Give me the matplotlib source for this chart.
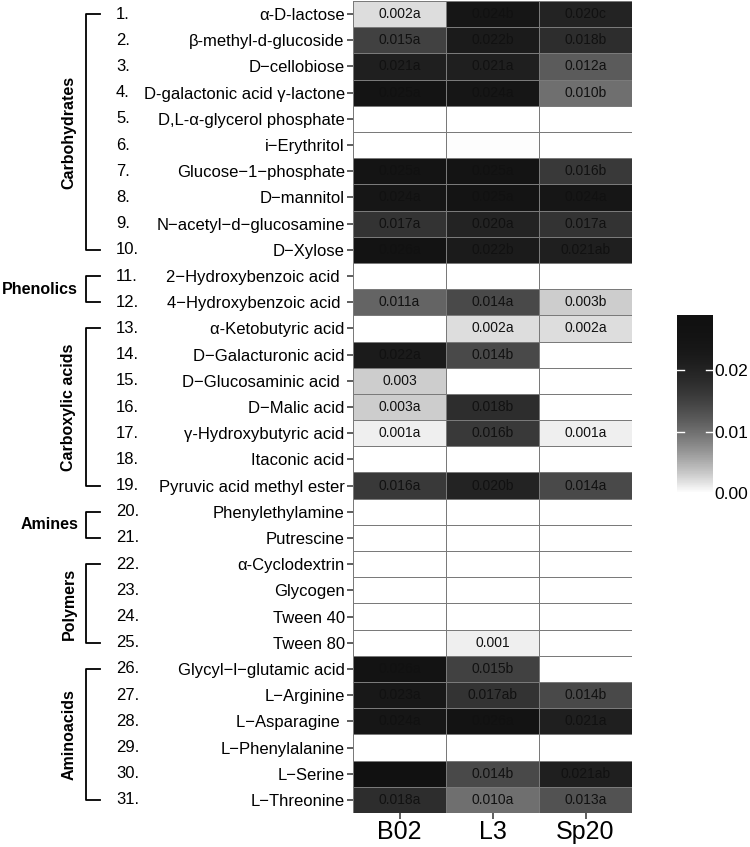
import numpy as np
import matplotlib
matplotlib.use("Agg")
import matplotlib.pyplot as plt
from matplotlib.colors import ListedColormap
from matplotlib.transforms import blended_transform_factory

plt.rcParams['font.family'] = ['Liberation Sans', 'DejaVu Sans']

# ---------------------------------------------------------------- data
strains = ['B02', 'L3', 'Sp20']

substrates = ['α-D-lactose', 'β-methyl-d-glucoside', 'D−cellobiose',
              'D-galactonic acid γ-lactone', 'D,L-α-glycerol phosphate',
              'i−Erythritol', 'Glucose−1−phosphate', 'D−mannitol',
              'N−acetyl−d−glucosamine', 'D−Xylose',
              '2−Hydroxybenzoic acid ', '4−Hydroxybenzoic acid ',
              'α-Ketobutyric acid', 'D−Galacturonic acid', 'D−Glucosaminic acid ',
              'D−Malic acid', 'γ-Hydroxybutyric acid', 'Itaconic acid',
              'Pyruvic acid methyl ester',
              'Phenylethylamine', 'Putrescine',
              'α-Cyclodextrin', 'Glycogen', 'Tween 40', 'Tween 80',
              'Glycyl−l−glutamic acid', 'L−Arginine', 'L−Asparagine ',
              'L−Phenylalanine', 'L−Serine', 'L−Threonine']

nan = np.nan
b02 = [0.002, 0.015, 0.021, 0.025, nan, nan, 0.025, 0.024, 0.017, 0.026,
       nan, 0.011, nan, 0.022, 0.003, 0.003, 0.001, nan, 0.016,
       nan, nan, nan, nan, nan, nan,
       0.026, 0.023, 0.024, nan, 0.028, 0.018]
l3 = [0.024, 0.022, 0.021, 0.024, nan, 0.0002, 0.025, 0.025, 0.020, 0.022,
      nan, 0.014, 0.002, 0.014, nan, 0.018, 0.016, nan, 0.020,
      nan, nan, nan, nan, nan, 0.001,
      0.015, 0.017, 0.026, nan, 0.014, 0.010]
sp20 = [0.020, 0.018, 0.012, 0.010, nan, nan, 0.016, 0.024, 0.017, 0.021,
        nan, 0.003, 0.002, nan, nan, nan, 0.001, nan, 0.014,
        nan, nan, nan, nan, nan, nan,
        nan, 0.014, 0.021, nan, 0.021, 0.013]

lab_b02 = ['0.002a', '0.015a', '0.021a', '0.025a', '', '', '0.025a', '0.024a', '0.017a', '0.026a',
           '', '0.011a', '', '0.022a', '0.003', '0.003a', '0.001a', '', '0.016a',
           '', '', '', '', '', '',
           '0.026a', '0.023a', '0.024a', '', '0.028a', '0.018a']
lab_l3 = ['0.024b', '0.022b', '0.021a', '0.024a', '', '', '0.025a', '0.025a', '0.020a', '0.022b',
          '', '0.014a', '0.002a', '0.014b', '', '0.018b', '0.016b', '', '0.020b',
          '', '', '', '', '', '0.001',
          '0.015b', '0.017ab', '0.026a', '', '0.014b', '0.010a']
lab_sp20 = ['0.020c', '0.018b', '0.012a', '0.010b', '', '', '0.016b', '0.024a', '0.017a', '0.021ab',
            '', '0.003b', '0.002a', '', '', '', '0.001a', '', '0.014a',
            '', '', '', '', '', '',
            '', '0.014b', '0.021a', '', '0.021ab', '0.013a']

# groups: name, first row, last row (1-based)
groups = [('Carbohydrates', 1, 10), ('Phenolics', 11, 12),
          ('Carboxylic acids', 13, 19), ('Amines', 20, 21),
          ('Polymers', 22, 25), ('Aminoacids', 26, 31)]

# ---------------------------------------------------------------- colours
t = np.linspace(0, 1, 256)
g = (17 + 238 * (1 - t) ** 2.2) / 255.0
cmap = ListedColormap(np.column_stack([g, g, g]))
cmap.set_bad('white')
vmax = 0.029

vals = np.ma.masked_invalid(np.column_stack([b02, l3, sp20]))
labels = np.column_stack([lab_b02, lab_l3, lab_sp20])
nrow, ncol = vals.shape

W, H = 750, 847
fig = plt.figure(figsize=(W / 100, H / 100), dpi=100)
ax = fig.add_axes([353 / W, 1 - 813 / H, (632 - 353) / W, (813 - 1) / H])

mesh = ax.pcolormesh(np.arange(ncol + 1), np.arange(nrow + 1), vals,
                     cmap=cmap, vmin=0, vmax=vmax,
                     edgecolors='#7a7a7a', linewidth=0.7)
ax.set_xlim(0, ncol)
ax.set_ylim(nrow, 0)
for s in ax.spines.values():
    s.set_visible(False)

for i in range(nrow):
    for j in range(ncol):
        if labels[i, j]:
            ax.text(j + 0.5, i + 0.5, labels[i, j], ha='center', va='center',
                    fontsize=10, color='#111111')

ax.set_xticks(np.arange(ncol) + 0.5)
ax.set_xticklabels(strains, fontsize=18)
ax.set_yticks(np.arange(nrow) + 0.5)
ax.set_yticklabels(substrates, fontsize=12)
ax.tick_params(axis='y', length=4, width=1.1, color='#333333', pad=2)
ax.tick_params(axis='x', length=4, width=1.1, color='#333333', pad=1)

# row numbers and group brackets
tr = blended_transform_factory(fig.transFigure, ax.transData)
for i in range(nrow):
    fig.text(116 / W, i + 0.5, '%d.' % (i + 1), transform=tr,
             ha='left', va='center', fontsize=12)

xv, xs = 86 / W, 100 / W
for name, r0, r1 in groups:
    y0, y1 = r0 - 0.5, r1 - 0.5
    ax.plot([xs, xv, xv, xs], [y0, y0, y1, y1], transform=tr,
            color='black', lw=1.3, clip_on=False)
    ym = (y0 + y1) / 2
    if r1 - r0 >= 3:
        fig.text(69 / W, ym, name, transform=tr, rotation=90,
                 ha='center', va='center', fontsize=11.5, fontweight='bold')
    else:
        fig.text(78 / W, ym, name, transform=tr,
                 ha='right', va='center', fontsize=11.5, fontweight='bold')

# colour bar
cax = fig.add_axes([677 / W, 1 - 493 / H, 36 / W, 178 / H])
cb = fig.colorbar(mesh, cax=cax, ticks=[0, 0.01, 0.02])
cb.outline.set_visible(False)
cb.ax.set_yticklabels(['0.00', '0.01', '0.02'])
cax.tick_params(length=0, labelsize=12.5, pad=1)
trc = blended_transform_factory(cax.transAxes, cax.transData)
for v in [0.01, 0.02]:
    cax.plot([0, 0.2], [v, v], color='white', lw=1, transform=trc)
    cax.plot([0.8, 1], [v, v], color='white', lw=1, transform=trc)

fig.savefig('out.png', dpi=100)
